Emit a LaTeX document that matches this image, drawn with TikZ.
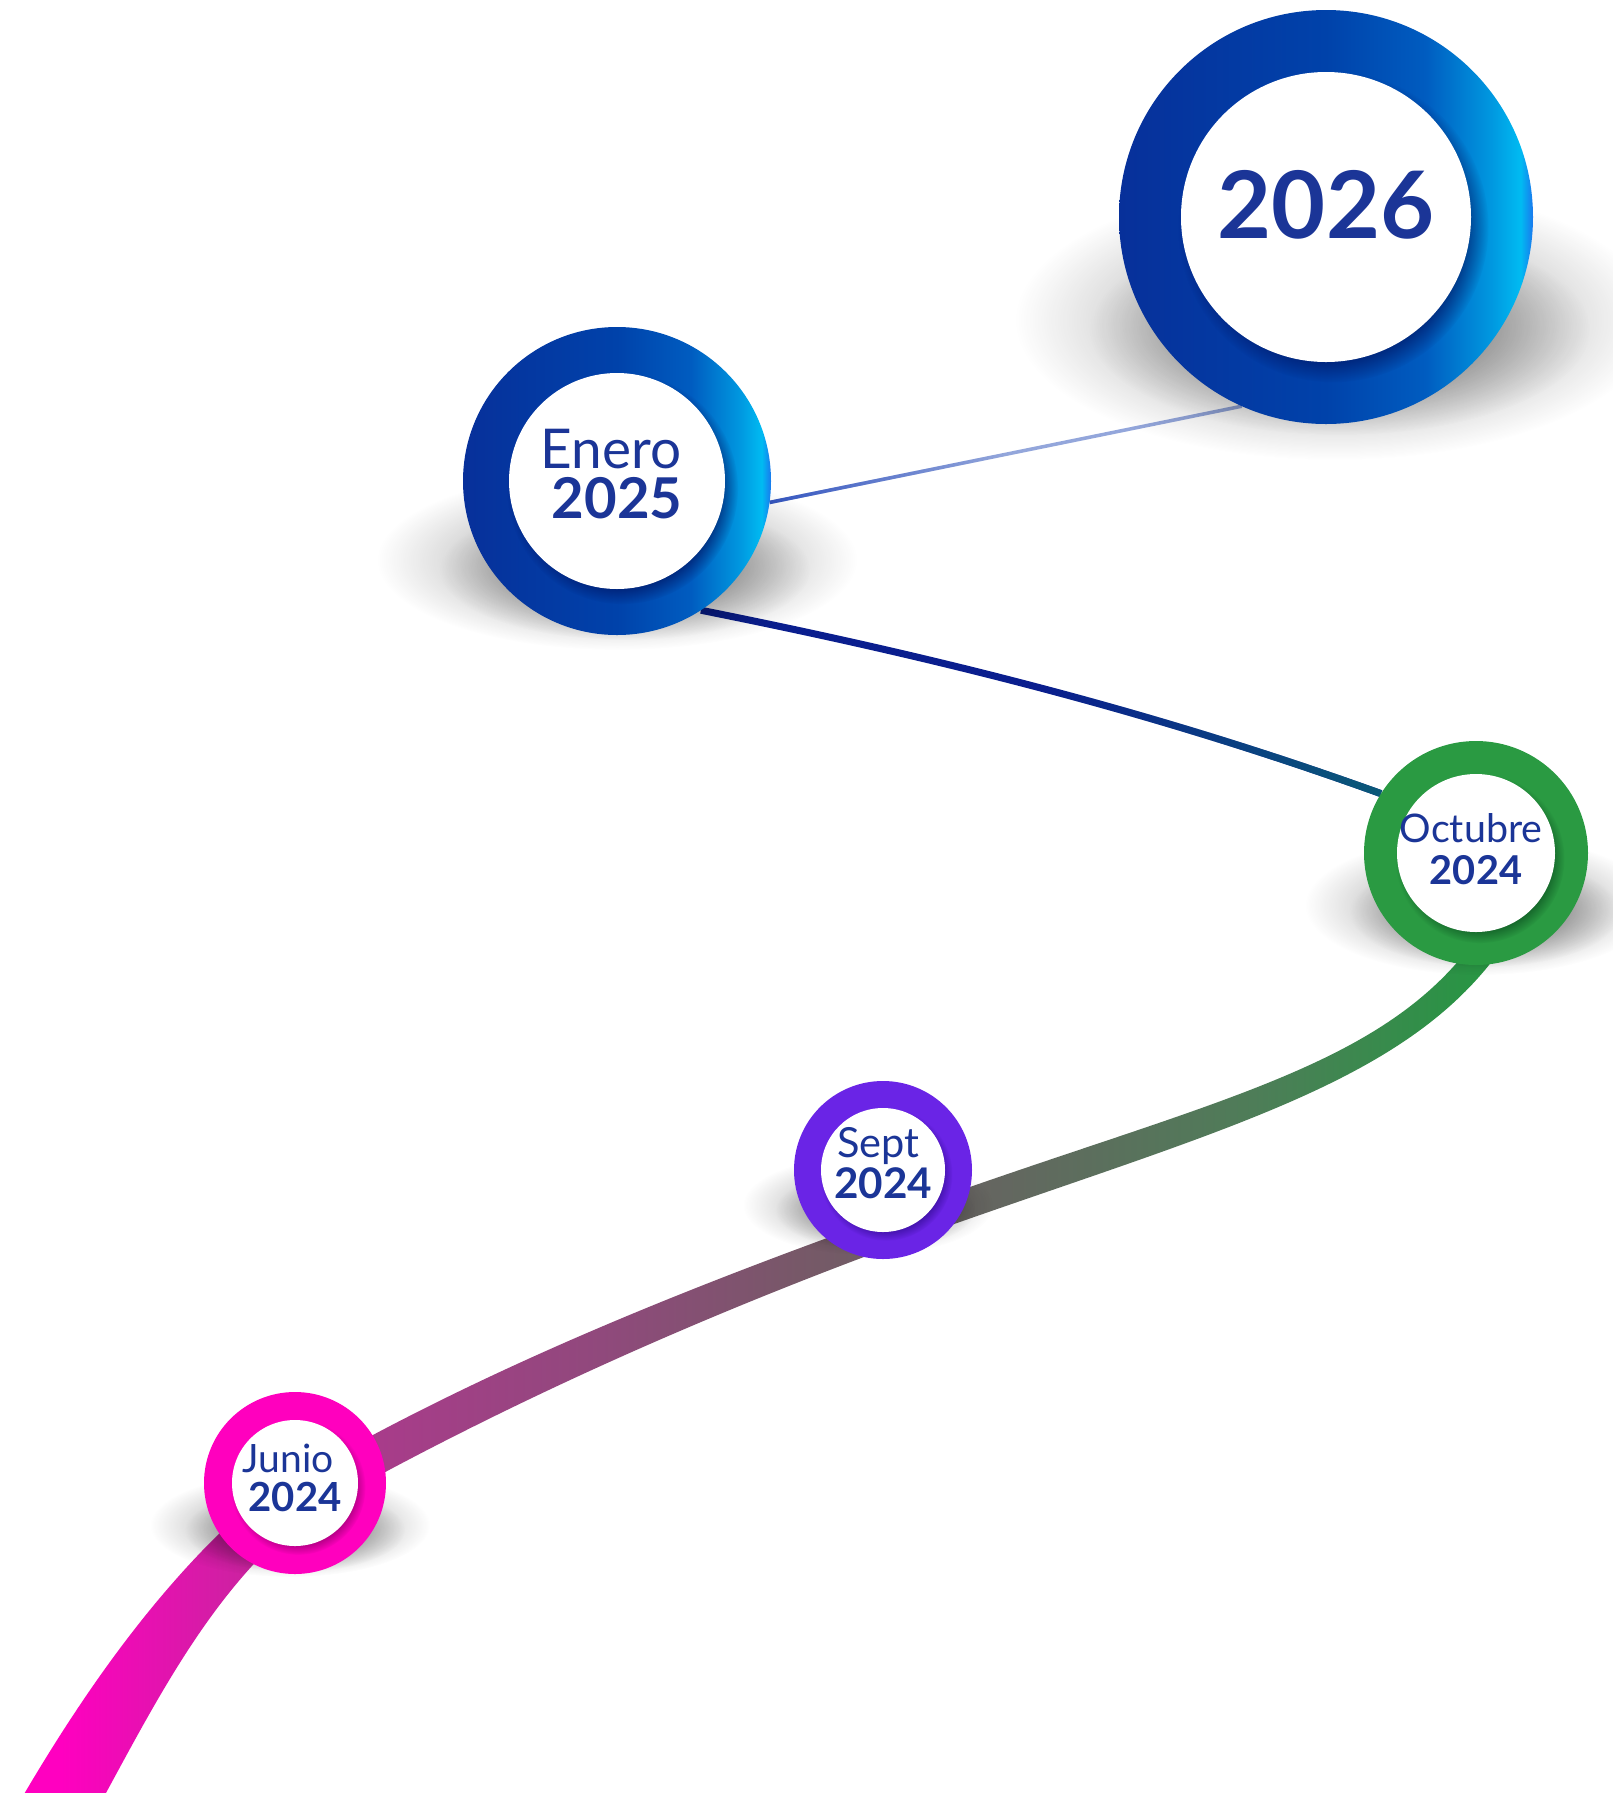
\documentclass[tikz,border=0pt]{standalone}
\usepackage{fontspec}
\newfontfamily\latofont{Lato}
\usetikzlibrary{calc,fadings}

% text and ring colours
\definecolor{txtblue}{HTML}{1B3597}
\definecolor{ringmag}{HTML}{FF00BE}
\definecolor{magshadow}{HTML}{8A0066}
\definecolor{ringpur}{HTML}{6A24E6}
\definecolor{purshadow}{HTML}{2E0A8C}
\definecolor{ringgrn}{HTML}{2A9A42}
\definecolor{grnshadow}{HTML}{0A4A1E}
\definecolor{blueshadow}{HTML}{000F5A}
% blue ring gradient
\definecolor{bl1}{HTML}{07309A}
\definecolor{bl2}{HTML}{0042AA}
\definecolor{bl3}{HTML}{005CC0}
\definecolor{bl4}{HTML}{0098E0}
\definecolor{bl5}{HTML}{00BBF2}
\definecolor{bl6}{HTML}{1A78EE}
% thin links
\definecolor{lineNavy}{HTML}{0A1E8E}
\definecolor{lineTeal}{HTML}{0B5A78}
\definecolor{linePale}{HTML}{93A6DB}
\definecolor{lineDeep}{HTML}{3556C0}
% track gradient, magenta to green
\definecolor{bandA}{HTML}{FF00C0}
\definecolor{bandB}{HTML}{D81AA8}
\definecolor{bandC}{HTML}{A83C8A}
\definecolor{bandD}{HTML}{90497C}
\definecolor{bandE}{HTML}{775868}
\definecolor{bandF}{HTML}{646660}
\definecolor{bandG}{HTML}{4E7D58}
\definecolor{bandH}{HTML}{2C9246}
\definecolor{bandI}{HTML}{249A40}

\pgfdeclarehorizontalshading{bandshade}{100bp}{color(0bp)=(bandA); color(25bp)=(bandA); color(26.7bp)=(bandA); color(31.3bp)=(bandB); color(37.2bp)=(bandC); color(44.5bp)=(bandD); color(51bp)=(bandE); color(57.5bp)=(bandF); color(66bp)=(bandG); color(72.5bp)=(bandH); color(75bp)=(bandI); color(100bp)=(bandI)}
\pgfdeclarehorizontalshading{blueshade}{100bp}{color(0bp)=(bl1); color(25bp)=(bl1); color(50bp)=(bl2); color(62bp)=(bl3); color(70bp)=(bl4); color(73.5bp)=(bl5); color(75bp)=(bl6); color(100bp)=(bl6)}

\tikzfading[name=softfade, inner color=transparent!0, outer color=transparent!100]
\tikzfading[name=tealin, left color=transparent!100, right color=transparent!0, middle color=transparent!100]
\tikzfading[name=deepout, left color=transparent!0, right color=transparent!100, middle color=transparent!100]

\pgfdeclarelayer{back}
\pgfsetlayers{back,main}

\tikzset{
  ringnode/.style={circle, inner sep=0pt, outer sep=0pt, minimum size=#1},
  datetext/.style={text=txtblue, align=center, inner sep=0pt},
  shadowblob/.style={fill=black, path fading=softfade},
}

% soft drop shadow: centre x, centre y, x radius, y radius, opacity
\newcommand{\tlshadow}[5]{%
  \fill[shadowblob, opacity=#5] (#1,#2) ellipse [x radius=#3, y radius=#4];}

% ring: node, outer radius, inner radius, ring paint, inner shadow colour
\newcommand{\tlring}[5]{%
  \path[#4] (#1) circle[radius={#2*0.01cm}];
  \fill[#5, opacity=0.6, path fading=circle with fuzzy edge 15 percent]
    ($(#1)+({0.05*#3},{0.07*#3})$) circle[radius={1.07*#3*0.01cm}];
  \fill[white] (#1) circle[radius={#3*0.01cm}];}

\begin{document}
\begin{tikzpicture}[x=0.01cm, y=-0.01cm]
\useasboundingbox (0,0) rectangle (1613,1793);

% milestone positions
\node[ringnode=4.14cm] (n2026)  at (1326,217)  {};
\node[ringnode=3.08cm] (enero)  at (617,481)   {};
\node[ringnode=2.24cm] (oct)    at (1476,853)  {};
\node[ringnode=1.78cm] (sept)   at (883,1170)  {};
\node[ringnode=1.82cm] (junio)  at (295,1483)  {};

% labels
\node[datetext, font=\latofont\bfseries\fontsize{26.5}{30}\selectfont] (t2026) at ($(n2026)+(0,-12)$) {2026};
\node[datetext, font=\latofont\fontsize{15.6}{14.4}\selectfont] (tenero) at ($(enero)+(0,-7)$)
  {Enero\rule{3.5pt}{0pt}\\{\bfseries\fontsize{16}{14.4}\selectfont 2025}};
\node[datetext, font=\latofont\fontsize{11.2}{11.8}\selectfont] (toct) at ($(oct)+(0,-4)$)
  {Octubre\rule{2.8pt}{0pt}\\{\bfseries\fontsize{11.3}{11.8}\selectfont 2024}};
\node[datetext, font=\latofont\fontsize{11.8}{11.5}\selectfont] (tsept) at ($(sept)+(0,-7)$)
  {Sept\rule{2.6pt}{0pt}\\{\bfseries\fontsize{12}{11.5}\selectfont 2024}};
\node[datetext, font=\latofont\fontsize{11.1}{11.2}\selectfont] (tjunio) at ($(junio)+(0,-5)$)
  {Junio\rule{4pt}{0pt}\\{\bfseries\fontsize{11.4}{11.2}\selectfont 2024}};

\begin{pgfonlayer}{back}
  \fill[white] (0,0) rectangle (1613,1793);

  % tapering track from the bottom edge through Junio and Sept up to Octubre
  \shade[shading=bandshade]
    (9,1820) .. controls (80,1696) and (165,1572) .. (276,1483)
    -- (371,1436) .. controls (561,1335) and (764,1259) .. (967,1188)
    .. controls (1260,1086) and (1422,1054) .. (1503,894)
    -- (1527,906) .. controls (1446,1066) and (1270,1114) .. (977,1216)
    .. controls (776,1286) and (577,1370) .. (389,1470)
    -- (304,1517) .. controls (197,1602) and (139.5,1737) .. (71,1856)
    -- cycle;

  % thin links
  \draw[line width=2pt, lineNavy] (enero.-57)
    .. controls ($(enero.-57)+(230,46)$) and ($(oct.148)+(-230,-83)$) .. (oct.148);
  \draw[line width=2pt, lineTeal, path fading=tealin] (enero.-57)
    .. controls ($(enero.-57)+(230,46)$) and ($(oct.148)+(-230,-83)$) .. (oct.148);
  \draw[line width=1pt, linePale] (enero.-8) -- (n2026.-114);
  \draw[line width=1pt, lineDeep, path fading=deepout] (enero.-8) -- (n2026.-114);

  % drop shadows
  \tlshadow{1335}{320}{320}{140}{0.45}
  \tlshadow{1340}{330}{250}{105}{0.5}
  \tlshadow{617}{560}{240}{90}{0.45}
  \tlshadow{625}{570}{185}{70}{0.5}
  \tlshadow{1480}{905}{175}{70}{0.45}
  \tlshadow{1485}{912}{135}{55}{0.5}
  \tlshadow{868}{1205}{125}{50}{0.4}
  \tlshadow{875}{1210}{100}{40}{0.45}
  \tlshadow{290}{1525}{140}{52}{0.45}
  \tlshadow{295}{1530}{110}{42}{0.5}

  % rings
  \tlring{n2026}{207}{145}{shade, shading=blueshade}{blueshadow}
  \tlring{enero}{154}{108}{shade, shading=blueshade}{blueshadow}
  \tlring{oct}{112}{79}{fill=ringgrn}{grnshadow}
  \tlring{sept}{89}{62}{fill=ringpur}{purshadow}
  \tlring{junio}{91}{63}{fill=ringmag}{magshadow}
\end{pgfonlayer}
\end{tikzpicture}
\end{document}
